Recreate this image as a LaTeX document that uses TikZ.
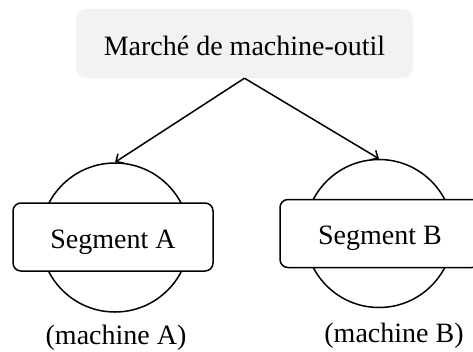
\documentclass[tikz,border=0pt]{standalone}
\usepackage{fontspec}
\setmainfont{Liberation Serif}
\usetikzlibrary{arrows.meta}
\definecolor{titlegray}{RGB}{242,242,242}
\tikzset{
  txt/.style={font=\fontsize{28}{32}\selectfont, inner sep=0pt},
  titlebox/.style={txt, fill=titlegray, rounded corners=10pt, minimum width=337pt, minimum height=69pt, text height=23pt, text depth=0pt},
  segbox/.style={txt, draw, line width=1.5pt, fill=white, rounded corners=8pt, minimum width=200pt, minimum height=68pt, text height=22pt, text depth=0pt},
  segcirc/.style={circle, draw, line width=1.5pt, inner sep=0pt, minimum size=148pt},
  link/.style={line width=1.5pt, -{Straight Barb[length=6pt,width=11pt,line width=1.5pt]}},
}
\begin{document}
\begin{tikzpicture}[x=1pt,y=-1pt]
\useasboundingbox (0,0) rectangle (473,351);
\clip (0,0) rectangle (473,351);
\node[titlebox] (title) at (244.5,43.5) {Marché de machine-outil};
\node[segcirc, minimum size=149pt] (ca) at (115,237.5) {};
\node[segcirc] (cb) at (379,233.5) {};
\node[segbox] (sa) at (113,237) {Segment A};
\node[segbox] (sb) at (380,233.5) {Segment B};
\node[txt, anchor=base] (la) at (116,344) {(machine A)};
\node[txt, anchor=base] (lb) at (394,342) {(machine B)};
\draw[link] (title.south) -- (ca.north);
\draw[link] (title.south) -- (cb.north);
\end{tikzpicture}
\end{document}
